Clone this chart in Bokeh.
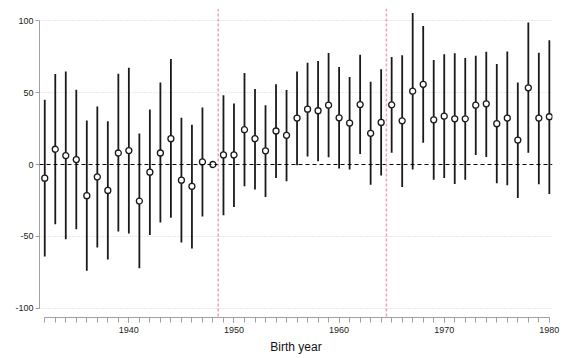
import numpy as np
from bokeh.plotting import figure
from bokeh.models import FixedTicker, Span, ColumnDataSource, Range1d
from bokeh.embed import file_html
from bokeh.resources import INLINE

years = list(range(1932, 1981))
estimate = [-9.5, 10.6, 6.2, 3.4, -21.7, -8.6, -18.0, 8.0, 9.7, -25.4,
            -5.3, 8.0, 18.0, -10.9, -15.2, 1.8, 0.0, 6.7, 6.7, 24.2,
            18.0, 9.5, 23.3, 20.3, 32.3, 38.5, 37.4, 41.3, 32.5, 28.8,
            41.7, 21.7, 29.3, 41.5, 30.4, 51.0, 55.8, 31.1, 33.6, 31.8,
            31.8, 41.3, 42.2, 28.4, 32.3, 17.0, 53.3, 32.3, 33.2]
ci_high = [45.0, 63.0, 64.6, 52.0, 30.6, 40.3, 30.0, 63.2, 67.3, 21.5,
           38.3, 57.0, 73.4, 32.5, 27.7, 39.7, None, 48.2, 42.4, 63.7,
           52.6, 41.3, 55.8, 51.9, 64.6, 70.8, 72.0, 77.5, 67.8, 60.9,
           76.3, 57.6, 66.2, 74.7, 76.0, 105.4, 96.4, 72.6, 76.6, 77.3,
           74.0, 75.6, 78.4, 69.9, 78.6, 57.0, 98.7, 77.7, 86.5]
ci_low = [-64.0, -41.5, -52.0, -45.0, -73.8, -57.7, -66.0, -46.6, -48.0, -72.2,
          -49.0, -40.4, -37.0, -54.3, -58.4, -36.2, None, -35.3, -29.6, -15.2,
          -17.3, -22.6, -9.3, -11.6, -0.5, 5.5, 2.3, 5.0, -2.8, -3.5,
          7.3, -14.1, -7.6, 8.1, -15.7, -3.5, 15.2, -10.6, -9.3, -13.6,
          -10.6, 6.7, 5.3, -13.1, -14.5, -23.3, 8.1, -13.8, -20.5]
cutoffs = [1948.5, 1964.5]
x_tick_values = [1940, 1950, 1960, 1970, 1980]
y_tick_values = [-100, -50, 0, 50, 100]
y_tick_labels = ["-100", "-50", "0", "50", "100"]
x_label = "Birth year"

lo = [np.nan if v is None else v for v in ci_low]
hi = [np.nan if v is None else v for v in ci_high]
src = ColumnDataSource(dict(x=years, y=estimate, lo=lo, hi=hi))

p = figure(width=571, height=358, output_backend="svg", toolbar_location=None,
           x_range=Range1d(1931.5, 1980.3), y_range=Range1d(-106.4, 108.5),
           min_border_left=39, min_border_right=19, min_border_top=8,
           min_border_bottom=41)
p.outline_line_color = None
p.background_fill_color = "white"
p.border_fill_color = "white"

# grid
p.xgrid.visible = False
p.ygrid.ticker = FixedTicker(ticks=[-100, -50, 50, 100])
p.ygrid.grid_line_color = "#d4d4d4"
p.ygrid.grid_line_dash = "1 2"
p.ygrid.grid_line_width = 1

# reference lines
p.add_layout(Span(location=0, dimension="width", line_color="black",
                  line_dash="4 3", line_width=1))
for c in cutoffs:
    p.add_layout(Span(location=c, dimension="height", line_color="#eaa2c4",
                      line_dash="3 2", line_width=1.5))

p.segment(x0="x", y0="lo", x1="x", y1="hi", source=src, line_color="#1a1a1a",
          line_width=1.8)
p.scatter(x="x", y="y", source=src, marker="circle", size=6,
          fill_color="white", line_color="#1a1a1a", line_width=1.3)

# axes
yax = p.yaxis[0]
yax.ticker = FixedTicker(ticks=y_tick_values)
yax.major_label_overrides = {v: l for v, l in zip(y_tick_values, y_tick_labels)}
yax.bounds = (-100, 100)
yax.axis_line_color = "#a0a0a0"
yax.major_tick_line_color = "#a0a0a0"
yax.major_tick_out = 4
yax.major_tick_in = 0
yax.minor_tick_line_color = None
yax.major_label_text_font = "Liberation Sans"
yax.major_label_text_font_size = "9px"
yax.major_label_text_color = "#222222"
yax.major_label_standoff = 2

xax = p.xaxis[0]
xax.ticker = FixedTicker(ticks=x_tick_values, minor_ticks=years)
xax.bounds = (1932, 1980)
xax.axis_line_color = "#a0a0a0"
xax.major_tick_line_color = "#a0a0a0"
xax.minor_tick_line_color = "#a0a0a0"
xax.major_tick_out = 5
xax.major_tick_in = 0
xax.minor_tick_out = 5
xax.minor_tick_in = 0
xax.major_label_text_font = "Liberation Sans"
xax.major_label_text_font_size = "9px"
xax.major_label_text_color = "#222222"
xax.major_label_standoff = 4
xax.axis_label = x_label
xax.axis_label_text_font = "Liberation Sans"
xax.axis_label_text_font_size = "12px"
xax.axis_label_text_font_style = "normal"
xax.axis_label_text_color = "#111111"
xax.axis_label_standoff = 4

open("out.html", "w").write(file_html(p, INLINE))
